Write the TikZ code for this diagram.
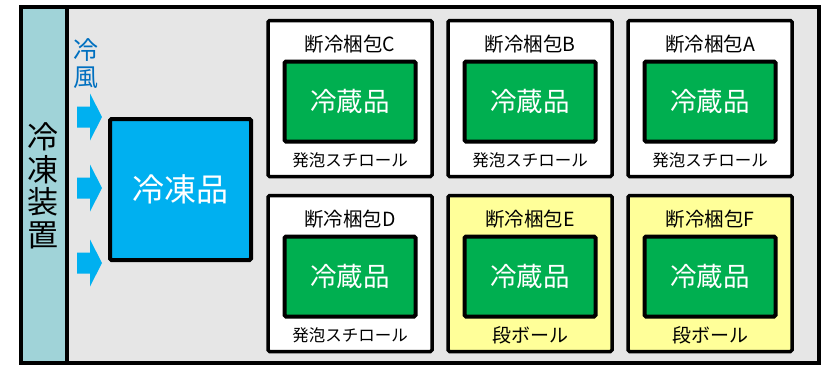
\documentclass[tikz,border=0pt]{standalone}
\usepackage{fontspec}
\setmainfont{Noto Sans CJK JP}
\definecolor{bggrey}{HTML}{E6E6E6}
\definecolor{teal1}{HTML}{A0D3D8}
\definecolor{frozen}{HTML}{00B0F0}
\definecolor{windblue}{HTML}{0070C0}
\definecolor{chill}{HTML}{00AF50}
\definecolor{cardboard}{HTML}{FFFF99}
\tikzset{
  pkgbox/.style={draw=black, line width=3.5pt, rounded corners=1.5pt, minimum width=164pt, minimum height=156pt, inner sep=0pt},
  itembox/.style={draw=black, fill=chill, line width=4pt, rounded corners=1.5pt, minimum width=131pt, minimum height=80pt, inner sep=0pt, text=white, font=\fontsize{26.5}{28}\selectfont},
  pkgtitle/.style={inner sep=0pt, font=\fontsize{19.5}{21}\selectfont},
  pkgfoot/.style={inner sep=0pt, font=\fontsize{16.5}{19}\selectfont},
  pkgfootbig/.style={inner sep=0pt, font=\fontsize{19}{21}\selectfont},
  windarrow/.style={fill=frozen, draw=none},
}
\newcommand{\pkgdraw}[7]{%
  \node[pkgbox, fill=#6] (p#1) at (#2,#3) {};
  \node[itembox] (g#1) at (#2,#3+3) {冷蔵品};
  \node[pkgtitle] (t#1) at (#2,#3-54) {#4};
  \node[#7] (f#1) at (#2,#3+62) {#5};
}
\begin{document}
\begin{tikzpicture}[x=1pt,y=-1pt]
\useasboundingbox (0,0) rectangle (825,365);
% background of chamber
\fill[bggrey] (21,7) rectangle (819,363);
\fill[teal1] (21,7) rectangle (67,363);
\draw[line width=4pt] (67,7) -- (67,363);
\draw[line width=4pt] (21,7) rectangle (819,363);
% device label
\node[inner sep=0pt, align=center, font=\fontsize{31}{32.5}\selectfont] (dev) at (43,186) {冷\\凍\\装\\置};
% wind label
\node[inner sep=0pt, align=center, text=windblue, font=\fontsize{25}{27}\selectfont] (wind) at (86,64) {冷\\風};
% arrows
\foreach \cy in {117,188,263}{
  \fill[windarrow] (77,\cy-10.5) -- (90,\cy-10.5) -- (90,\cy-23.5) -- (102,\cy) -- (90,\cy+23.5) -- (90,\cy+10.5) -- (77,\cy+10.5) -- cycle;
}
% frozen goods
\node[draw=black, fill=frozen, line width=4pt, rounded corners=1.5pt, minimum width=141pt, minimum height=141pt, inner sep=0pt, text=white, font=\fontsize{32}{34}\selectfont] (frz) at (180.5,189.5) {冷凍品};
% packages
\pkgdraw{C}{350}{98.5}{断冷梱包C}{発泡スチロール}{white}{pkgfoot}
\pkgdraw{B}{530}{98.5}{断冷梱包B}{発泡スチロール}{white}{pkgfoot}
\pkgdraw{A}{710}{98.5}{断冷梱包A}{発泡スチロール}{white}{pkgfoot}
\pkgdraw{D}{350}{273.5}{断冷梱包D}{発泡スチロール}{white}{pkgfoot}
\pkgdraw{E}{530}{273.5}{断冷梱包E}{段ボール}{cardboard}{pkgfootbig}
\pkgdraw{F}{710}{273.5}{断冷梱包F}{段ボール}{cardboard}{pkgfootbig}
\end{tikzpicture}
\end{document}
